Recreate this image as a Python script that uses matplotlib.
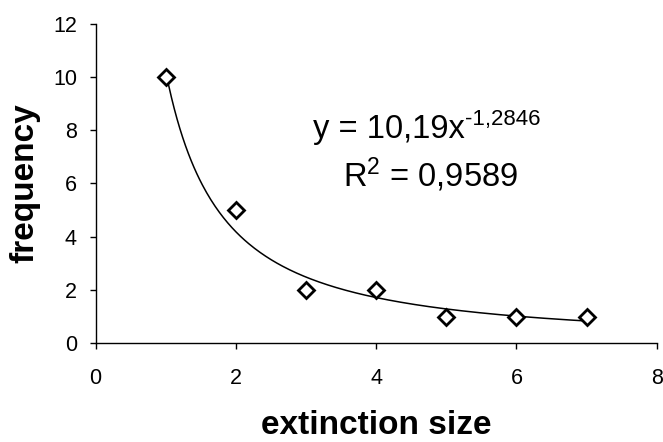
import numpy as np
import matplotlib
matplotlib.use("Agg")
import matplotlib.pyplot as plt

plt.rcParams['font.family'] = ['Liberation Sans', 'DejaVu Sans']
plt.rcParams['mathtext.fontset'] = 'custom'
plt.rcParams['mathtext.rm'] = 'Liberation Sans'
plt.rcParams['mathtext.it'] = 'Liberation Sans'
plt.rcParams['mathtext.default'] = 'regular'

extinction_size = [1, 2, 3, 4, 5, 6, 7]
frequency = [10, 5, 2, 2, 1, 1, 1]
x_ticks = [0, 2, 4, 6, 8]
y_ticks = [0, 2, 4, 6, 8, 10, 12]
eq_main = "y = 10,19x"
eq_exp = "-1,2846"
r2_text = r"R$^{2}$ = 0,9589"

W, H = 663, 442
fig = plt.figure(figsize=(W / 100, H / 100), dpi=100)
ax = fig.add_axes([0.1443, 0.2233, 0.8462, 0.7235])

# power-law trendline fitted in log-log space (as the spreadsheet does)
xs = np.array(extinction_size, dtype=float)
ys = np.array(frequency, dtype=float)
b, ln_a = np.polyfit(np.log(xs), np.log(ys), 1)
xf = np.linspace(xs.min(), xs.max(), 300)
ax.plot(xf, np.exp(ln_a) * xf ** b, color='black', lw=1.1)

ax.plot(extinction_size, frequency, linestyle='none', marker='D', markersize=7.8,
        markerfacecolor='white', markeredgecolor='black', markeredgewidth=2.0,
        zorder=3)

ax.set_xlim(0, 8)
ax.set_ylim(0, 12)
ax.set_xticks(x_ticks)
ax.set_yticks(y_ticks)
ax.tick_params(axis='both', direction='out', length=4.5, width=1, labelsize=15.5)
ax.tick_params(axis='x', pad=13.5)
ax.tick_params(axis='y', pad=9)
for s in ['top', 'right']:
    ax.spines[s].set_visible(False)
for s in ['left', 'bottom']:
    ax.spines[s].set_linewidth(1.0)

ax.set_xlabel("extinction size", fontsize=24, fontweight='bold')
ax.xaxis.label.set_va('baseline')
ax.xaxis.set_label_coords(376 / W, 1 - 434 / H, transform=fig.transFigure)
ax.set_ylabel("frequency", fontsize=24, fontweight='bold')
ax.yaxis.set_label_coords(-0.099, 0.5)

t = ax.text(0.387, 0.642, eq_main, transform=ax.transAxes, fontsize=23.5,
            ha='left', va='baseline')
ax.annotate(eq_exp, xy=(1, 0), xycoords=t, xytext=(0.5, 14.5),
            textcoords='offset points', fontsize=16, ha='left', va='baseline')
ax.text(0.441, 0.489, r2_text, transform=ax.transAxes, fontsize=23.5,
        ha='left', va='baseline')

fig.savefig("out.png", dpi=100)
